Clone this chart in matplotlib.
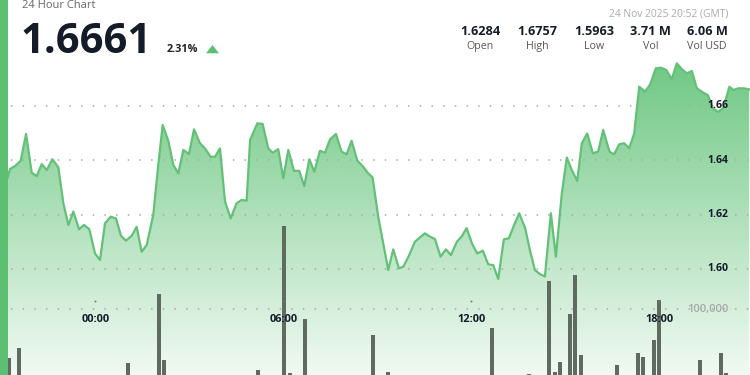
import numpy as np
import matplotlib
matplotlib.use("Agg")
import matplotlib.pyplot as plt
from matplotlib.transforms import blended_transform_factory
from matplotlib.patches import Rectangle, Polygon

plt.rcParams['font.family'] = ['Open Sans', 'DejaVu Sans']
plt.rcParams['lines.scale_dashes'] = False

# ---------------- data ----------------
# hours relative to 00:00 (negative = previous day)
times = [-3.00, -2.81, -2.72, -2.56, -2.38, -2.21, -2.03, -1.87, -1.71, -1.55, -1.37, -1.18,
         -1.02, -0.86, -0.70, -0.52, -0.36, -0.19, -0.01, 0.15, 0.31, 0.49, 0.66, 0.82,
         0.98, 1.16, 1.32, 1.48, 1.64, 1.85, 2.01, 2.15, 2.33, 2.49, 2.65, 2.81,
         2.99, 3.15, 3.34, 3.50, 3.68, 3.82, 3.98, 4.14, 4.32, 4.51, 4.67, 4.83,
         4.94, 5.17, 5.34, 5.52, 5.66, 5.84, 6.00, 6.16, 6.34, 6.51, 6.67, 6.83,
         6.99, 7.17, 7.33, 7.49, 7.68, 7.86, 8.02, 8.18, 8.36, 8.53, 8.71, 8.85,
         9.03, 9.19, 9.35, 9.51, 9.69, 9.83, 10.02, 10.20, 10.36, 10.52, 10.68, 10.84,
         11.02, 11.19, 11.35, 11.54, 11.69, 11.85, 12.03, 12.19, 12.37, 12.54, 12.70, 12.86,
         13.04, 13.20, 13.37, 13.53, 13.72, 13.87, 14.03, 14.19, 14.35, 14.54, 14.70, 14.89,
         15.05, 15.21, 15.38, 15.53, 15.70, 15.88, 16.05, 16.21, 16.41, 16.56, 16.72, 16.88,
         17.04, 17.20, 17.36, 17.55, 17.71, 17.89, 18.05, 18.22, 18.40, 18.56, 18.72, 18.88,
         19.04, 19.20, 19.39, 19.55, 19.71, 19.88, 20.04, 20.24, 20.36, 20.52, 20.71, 20.87]
prices = [1.6284, 1.6334, 1.6368, 1.6379, 1.6399, 1.6497, 1.6354, 1.6342, 1.6386, 1.6364, 1.6404, 1.6374,
          1.6242, 1.6162, 1.6211, 1.6146, 1.6162, 1.6146, 1.6057, 1.6033, 1.6168, 1.6192, 1.6186, 1.6122,
          1.6104, 1.6122, 1.6155, 1.6063, 1.6088, 1.6199, 1.6383, 1.6530, 1.6472, 1.6383, 1.6352, 1.6438,
          1.6423, 1.6514, 1.6463, 1.6444, 1.6413, 1.6413, 1.6444, 1.6248, 1.6186, 1.6242, 1.6254, 1.6251,
          1.6475, 1.6536, 1.6534, 1.6444, 1.6428, 1.6441, 1.6334, 1.6438, 1.6361, 1.6361, 1.6305, 1.6404,
          1.6358, 1.6435, 1.6428, 1.6477, 1.6497, 1.6432, 1.6422, 1.6472, 1.6399, 1.6379, 1.6352, 1.6337,
          1.6192, 1.6094, 1.5996, 1.6072, 1.6002, 1.6008, 1.6051, 1.6100, 1.6116, 1.6131, 1.6119, 1.6110,
          1.6045, 1.6072, 1.6051, 1.6100, 1.6119, 1.6150, 1.6092, 1.6057, 1.6067, 1.6017, 1.6014, 1.5963,
          1.6109, 1.6113, 1.6162, 1.6205, 1.6150, 1.6070, 1.5996, 1.5981, 1.5972, 1.6205, 1.6045, 1.6278,
          1.6410, 1.6364, 1.6324, 1.6463, 1.6499, 1.6426, 1.6432, 1.6512, 1.6432, 1.6422, 1.6459, 1.6463,
          1.6444, 1.6499, 1.6671, 1.6653, 1.6680, 1.6739, 1.6741, 1.6733, 1.6699, 1.6757, 1.6736, 1.6720,
          1.6729, 1.6665, 1.6650, 1.6640, 1.6592, 1.6578, 1.6592, 1.6671, 1.6659, 1.6665, 1.6665, 1.6661]

vol_times = [-2.74, -2.44, 1.04, 2.04, 2.19, 5.18, 6.03, 6.20, 6.69, 8.85, 9.35, 12.66, 13.83,
             14.49, 14.66, 14.83, 15.15, 15.32, 15.49, 16.65, 17.31, 17.48, 17.82, 17.98,
             19.31, 19.98, 20.14]
volumes = [25400, 41600, 18700, 123300, 22800, 7200, 227200, 3500, 85200, 60900, 5000, 71100, 1500,
           143100, 4600, 20200, 92800, 151700, 30400, 15200, 33000, 27900, 53300, 113700,
           22800, 33900, 3800]

price_ticks = [1.60, 1.62, 1.64, 1.66]
price_tick_labels = ['1.60', '1.62', '1.64', '1.66']
vol_ticks = [100000]
vol_tick_labels = ['100,000']
time_ticks = [0, 6, 12, 18]
time_tick_labels = ['00:00', '06:00', '12:00', '18:00']

header_title = '24 Hour Chart'
last_price = '1.6661'
change_pct = '2.31%'
timestamp = '24 Nov 2025 20:52 (GMT)'
stat_values = ['1.6284', '1.6757', '1.5963', '3.71 M', '6.06 M']
stat_labels = ['Open', 'High', 'Low', 'Vol', 'Vol USD']

# ---------------- style ----------------
W, H = 750, 375
GREEN = '#5dbf72'
LINE = '#62c177'
DARK = '#141b29'
BAR = '#5f6b60'
DOT = '#a9a9a9'

def fx(px):
    return px / W

def fy(py):
    return 1 - py / H

fig = plt.figure(figsize=(7.5, 3.75), dpi=100)
fig.patch.set_facecolor('white')

ax_vol = fig.add_axes([0, 0, 1, 1])
ax = fig.add_axes([0, 0, 1, 1])
ax.patch.set_visible(False)
for a in (ax, ax_vol):
    a.set_axis_off()
    a.set_xlim(-3.042, 20.896)
ax.set_ylim(1.56092, 1.69904)
ax_vol.set_ylim(0, 570776)

# gradient under the line
n = 400
ypx = np.linspace(0, H, n)
alpha = np.clip(0.95 - ypx / H * 0.87, 0.05, 1)
base = np.array([0.30, 0.73, 0.40])
rgba = np.zeros((n, 1, 4))
rgba[:, 0, :3] = base
rgba[:, 0, 3] = alpha
im = ax_vol.imshow(rgba, extent=(0, 1, 0, 1), transform=ax_vol.transAxes,
                   aspect='auto', origin='upper', zorder=0, interpolation='bilinear')
poly = ax.fill_between(times, prices, 1.50, facecolor='none', edgecolor='none')
im.set_clip_path(poly.get_paths()[0], ax.transData)

# volume bars
ax_vol.bar(vol_times, volumes, width=0.13, color=BAR, zorder=3, linewidth=0)

# dotted gridlines
for p in price_ticks:
    ax.axhline(p, color=DOT, lw=1.3, linestyle=(0, (0.01, 8.4)),
               dash_capstyle='round', zorder=1)
for v in vol_ticks:
    ax_vol.axhline(v, color=DOT, lw=1.3, linestyle=(0, (0.01, 8.4)),
                   dash_capstyle='round', zorder=1)

# price line
ax.plot(times, prices, color=LINE, lw=1.6, zorder=5, solid_joinstyle='round')

# axis labels
tr_y = blended_transform_factory(ax.transAxes, ax.transData)
for p, lab in zip(price_ticks, price_tick_labels):
    ax.text(fx(728), p, lab, transform=tr_y, ha='right', va='center',
            fontsize=7.6, fontweight='bold', color=DARK, zorder=6)
tr_yv = blended_transform_factory(ax_vol.transAxes, ax_vol.transData)
for v, lab in zip(vol_ticks, vol_tick_labels):
    ax_vol.text(fx(728), v, lab, transform=tr_yv, ha='right', va='center',
                fontsize=8, fontweight='semibold', color='#a8a8a8', zorder=6)

tr_x = blended_transform_factory(ax.transData, ax.transAxes)
for t, lab in zip(time_ticks, time_tick_labels):
    ax.text(t, fy(319), lab, transform=tr_x, ha='center', va='center',
            fontsize=7.9, fontweight='bold', color=DARK, zorder=6)
    ax.plot([t], [fy(300.7)], transform=tr_x, marker='o', ms=1.4,
            color='#777777', mec='none', zorder=6)

# left stripe
fig.patches.append(Rectangle((0, 0), fx(8), 1, transform=fig.transFigure,
                             facecolor=GREEN, edgecolor='none', zorder=10))

# header
fig.text(fx(22), fy(8), header_title, fontsize=8, color='#666666', va='baseline', ha='left')
fig.text(fx(21), fy(52.7), last_price, fontsize=30, fontweight='bold', color=DARK,
         va='baseline', ha='left')
fig.text(fx(167), fy(51.7), change_pct, fontsize=7.8, fontweight='bold', color='#222222',
         va='baseline', ha='left')
fig.patches.append(Polygon([(fx(206), fy(53.3)), (fx(219), fy(53.3)), (fx(212.5), fy(45))],
                           closed=True, transform=fig.transFigure, facecolor=GREEN,
                           edgecolor='none'))

fig.text(fx(728.5), fy(16.3), timestamp, fontsize=7.4, color='#ababab',
         va='baseline', ha='right')
centers = [480, 537, 594, 650.5, 707]
for c, v, lab in zip(centers, stat_values, stat_labels):
    fig.text(fx(c), fy(35), v, fontsize=9.2, fontweight='bold', color=DARK,
             ha='center', va='baseline')
    fig.text(fx(c), fy(49), lab, fontsize=7.7, color='#555555',
             ha='center', va='baseline')

fig.savefig('out.png', dpi=100, facecolor='white')
